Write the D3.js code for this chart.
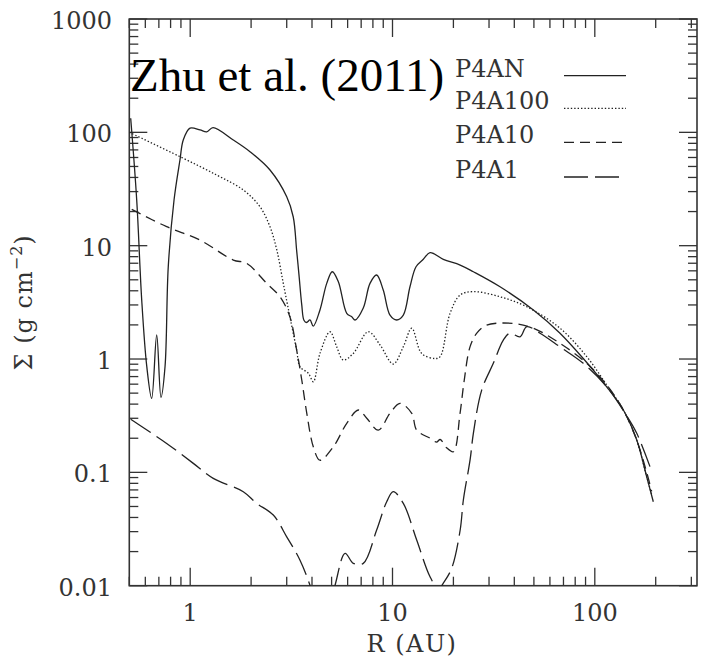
<!DOCTYPE html>
<html>
<head>
<meta charset="utf-8">
<script src="https://cdn.jsdelivr.net/npm/d3@7"></script>
<style>
  body { margin: 0; background: #fff; }
  text { font-family: "DejaVu Serif", serif; fill: #333; }
</style>
</head>
<body>
<div id="js_chart"></div>
<script>

// Surface density profiles, [R (AU), Sigma (g cm^-2)]
const p4an = [[0.508,133],[0.544,25.3],[0.576,3.3],[0.61,0.86],[0.645,0.45],[0.683,1.63],[0.717,0.46],
    [0.751,0.86],[0.779,6.5],[0.832,25.3],[0.89,57],[0.924,85.6],[0.998,109],[1.118,105],[1.207,101],
    [1.296,110],[1.633,85.6],[1.975,67.5],[2.48,46.5],[3.0,27],[3.23,18],[3.36,9],[3.45,5.5],[3.56,3.0],
    [3.65,2.2],[3.76,2.1],[3.91,2.21],[4.06,1.95],[4.38,2.71],[4.73,4.65],[5.04,5.89],[5.40,4.81],
    [5.94,2.53],[6.29,2.36],[6.53,2.21],[7.17,2.82],[7.74,4.65],[8.35,5.51],[9.0,4.06],[9.72,2.44],
    [10.49,2.21],[11.31,2.44],[12.2,4.34],[13.07,6.52],[14.2,7.58],[15.33,8.67],[17.83,7.58],[21.6,6.75],
    [25.1,5.89],[34,4.34],[49.7,2.71],[67.3,1.69],[87.7,1.01],[114.5,0.569],[138.4,0.355],[161.2,0.193],
    [180.5,0.0915],[194.6,0.055]];

const p4a100 = [[0.5,100],[0.89,61],[1.352,42],[1.83,31],[2.21,22.1],[2.48,14.7],[2.68,9.16],[2.885,4.65],
    [3.11,2.36],[3.36,1.2],[3.49,0.855],[3.84,0.748],[4.06,0.63],[4.38,1.12],[4.91,1.74],[5.30,1.28],
    [5.71,0.98],[6.40,1.12],[7.59,1.74],[8.68,1.33],[10.09,0.903],[11.3,1.28],[12.45,1.87],[13.94,1.12],
    [16.2,1.01],[17.2,1.05],[19.25,2.53],[21.6,3.67],[25.1,3.93],[34,3.54],[46.1,2.89],[67.3,1.87],
    [91.2,1.05],[114.5,0.59],[138.4,0.355],[161,0.193],[180.5,0.0915],[192,0.062]];

const p4a10 = [[0.514,20.9],[0.765,14.7],[1.118,11.2],[1.633,7.47],[1.90,6.99],[2.39,4.65],[2.78,3.54],
    [3.11,2.36],[3.36,1.2],[3.56,0.653],[3.77,0.332],[4.06,0.168],[4.38,0.128],[5.10,0.168],[5.94,0.271],
    [6.78,0.355],[7.46,0.30],[8.51,0.236],[9.72,0.332],[10.89,0.406],[12.45,0.332],[13.17,0.236],
    [15.33,0.20],[16.5,0.185],[17.2,0.195],[18.5,0.165],[20,0.152],[21.57,0.332],[22.6,0.64],[24.16,1.28],
    [26.1,1.69],[29.2,1.99],[39.6,2.06],[49.7,1.87],[67.3,1.375],[91.2,0.916],[114.5,0.59],[138.4,0.355],
    [161,0.193],[180.5,0.1],[191,0.068]];

const p4a1 = [[0.508,0.294],[0.544,0.271],[0.765,0.18],[1.036,0.12],[1.30,0.0886],[1.83,0.0675],
    [2.13,0.0533],[2.575,0.042],[3.0,0.027],[3.49,0.0168],[3.91,0.0101],[4.3,0.006],[4.8,0.006],
    [5.2,0.0101],[5.83,0.0193],[6.40,0.01575],[7.17,0.01575],[8.35,0.031],[9.36,0.0551],[10.09,0.0675],
    [11.31,0.0533],[13.17,0.0253],[15.33,0.012],[16.9,0.0093],[17.8,0.0105],[19.6,0.0142],[21.6,0.031],
    [22.4,0.057],[24.2,0.13],[25.1,0.221],[27.6,0.532],[31.5,0.916],[35.3,1.47],[38.1,1.69],[42.7,1.57],
    [46.1,1.93],[53.6,1.69],[67.3,1.28],[87.7,0.916],[114.5,0.569],[141.1,0.332],[161.2,0.221],[187.5,0.112]];

const seriesNames = ["P4AN", "P4A100", "P4A10", "P4A1"];
const xTickLabels = [1, 10, 100];
const yTickLabels = [0.01, 0.1, 1, 10, 100, 1000];

function createPlot() {
    let width = 706, height = 665;
    let left = 129.3, right = 697, top = 19, bottom = 585.7;

    let x = d3.scaleLog().domain([0.5, 320]).range([left, right]);
    let y = d3.scaleLog().domain([0.01, 1000]).range([bottom, top]);

    let svg = d3.select("#js_chart")
        .append("svg")
        .attr("width", width)
        .attr("height", height);

    svg.append("rect").attr("width", width).attr("height", height).attr("fill", "#fff");

    svg.append("clipPath").attr("id", "plotclip")
        .append("rect")
        .attr("x", left).attr("y", top)
        .attr("width", right - left).attr("height", bottom - top);

    // Ticks on all four sides, pointing inward
    let isMajor = function (v) { return Math.abs(Math.log10(v) - Math.round(Math.log10(v))) < 1e-6; };
    let ticks = svg.append("g").attr("stroke", "#333").attr("stroke-width", 1.3);

    x.ticks().forEach(function (v) {
        let len = isMajor(v) ? 18 : 9;
        let px = x(v);
        ticks.append("line").attr("x1", px).attr("x2", px).attr("y1", bottom).attr("y2", bottom - len);
        ticks.append("line").attr("x1", px).attr("x2", px).attr("y1", top).attr("y2", top + len);
    });

    y.ticks().forEach(function (v) {
        let len = isMajor(v) ? 18 : 9;
        let py = y(v);
        ticks.append("line").attr("x1", left).attr("x2", left + len).attr("y1", py).attr("y2", py);
        ticks.append("line").attr("x1", right).attr("x2", right - len).attr("y1", py).attr("y2", py);
    });

    // Frame
    svg.append("rect")
        .attr("x", left).attr("y", top)
        .attr("width", right - left).attr("height", bottom - top)
        .attr("fill", "none").attr("stroke", "#333").attr("stroke-width", 1.6);

    // Tick labels
    svg.selectAll(".xlab").data(xTickLabels).enter().append("text")
        .attr("x", function (d) { return x(d); })
        .attr("y", 621)
        .attr("text-anchor", "middle")
        .attr("font-size", 24)
        .text(function (d) { return d; });

    svg.selectAll(".ylab").data(yTickLabels).enter().append("text")
        .attr("x", 112)
        .attr("y", function (d) { return y(d) + 10; })
        .attr("text-anchor", "end")
        .attr("font-size", 24)
        .text(function (d) { return d; });

    // Axis titles
    svg.append("text")
        .attr("x", 412)
        .attr("y", 652)
        .attr("text-anchor", "middle")
        .attr("font-size", 24)
        .attr("letter-spacing", 1.5)
        .text("R (AU)");

    let ylab = svg.append("text")
        .attr("transform", "translate(32," + ((top + bottom) / 2) + ") rotate(-90)")
        .attr("text-anchor", "middle")
        .attr("font-size", 24)
        .attr("letter-spacing", 1);
    ylab.append("tspan").text("\u03A3 (g cm");
    ylab.append("tspan").attr("font-size", 16).attr("dy", -10).text("\u22122");
    ylab.append("tspan").attr("dy", 10).text(")");

    // Curves
    let line = d3.line()
        .x(function (d) { return x(d[0]); })
        .y(function (d) { return y(d[1]); })
        .curve(d3.curveCatmullRom.alpha(0.5));

    let dashes = ["none", "1.4,2", "10,6", "24,7"];
    let curves = [p4an, p4a100, p4a10, p4a1];

    let g_plot = svg.append("g").attr("clip-path", "url(#plotclip)");
    g_plot.selectAll("path").data(curves).enter().append("path")
        .attr("d", line)
        .attr("fill", "none")
        .attr("stroke", "#222")
        .attr("stroke-width", 1.3)
        .attr("stroke-dasharray", function (d, i) { return dashes[i]; });

    // Annotation
    svg.append("text")
        .attr("x", 130)
        .attr("y", 90.7)
        .style("font-family", "'Liberation Serif', serif")
        .style("fill", "#000")
        .attr("font-size", 47)
        .text("Zhu et al. (2011)");

    // Legend
    let legendY = [76.7, 109.3, 143.3, 178];
    seriesNames.forEach(function (name, i) {
        svg.append("text")
            .attr("x", 455)
            .attr("y", legendY[i])
            .attr("font-size", 24)
            .text(name);
        svg.append("line")
            .attr("x1", 564).attr("x2", i === 3 ? 621 : 626)
            .attr("y1", legendY[i] - 1).attr("y2", legendY[i] - 1)
            .attr("stroke", "#222")
            .attr("stroke-width", 1.3)
            .attr("stroke-dasharray", dashes[i]);
    });
}

createPlot();
</script>
</body>
</html>
